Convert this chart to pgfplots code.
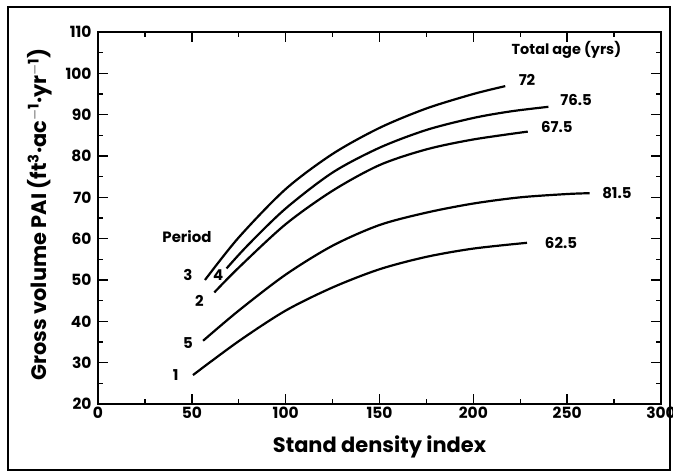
\documentclass[border=0pt]{standalone}
\usepackage{fontspec}
\setmainfont{Poppins}
\usepackage{pgfplots}
\pgfplotsset{compat=1.18}
\begin{document}
\begin{tikzpicture}[x=1bp,y=1bp]
\useasboundingbox (0,0) rectangle (673,473);
\draw[line width=1.2bp] (8,3) rectangle (670,466);
\begin{axis}[at={(98bp,69bp)}, anchor=south west,
  width=563bp, height=372bp, scale only axis,
  xmin=0, xmax=300, ymin=20, ymax=110,
  xtick={0,50,...,300}, ytick={20,30,...,110},
  minor x tick num=1, minor y tick num=1,
  tick align=inside, major tick length=10bp, minor tick length=5bp,
  axis line style={line width=1.6bp},
  every tick/.style={line width=1.4bp, black},
  /pgf/number format/assume math mode=true,
  tick label style={font=\bfseries\fontsize{15.5}{15.5}\selectfont},
  xticklabel style={anchor=center, yshift=-9bp},
  yticklabel style={anchor=east, xshift=-3bp},
  xlabel={Stand density index},
  ylabel={Gross volume PAI (ft\textsuperscript{3}·ac\textsuperscript{$-$1}·yr\textsuperscript{$-$1})},
  label style={font=\bfseries\fontsize{21}{21}\selectfont},
  xlabel style={at={(axis description cs:0.5,0)}, anchor=center, yshift=-43bp},
  ylabel style={at={(axis description cs:-0.104,0.51)}, anchor=center},
  clip=false]
\addplot[smooth, line width=2.2bp] coordinates {(57,50) (75,60.3) (100,72) (125,80.5) (150,86.8) (175,91.5) (200,95) (217,96.9)};
\addplot[smooth, line width=2.2bp] coordinates {(68.5,52.8) (80,58.5) (100,67.3) (125,76) (150,82) (175,86.3) (200,89.2) (220,90.8) (240,91.9)};
\addplot[smooth, line width=2.2bp] coordinates {(62,47) (75,53) (100,63.5) (125,71.6) (150,77.8) (175,81.6) (200,84.0) (229,85.9)};
\addplot[smooth, line width=2.2bp] coordinates {(56,35.3) (75,42.6) (100,51.3) (125,58.3) (150,63.3) (175,66.3) (200,68.5) (225,70.0) (250,70.8) (262,71)};
\addplot[smooth, line width=2.2bp] coordinates {(50.6,27) (75,35.2) (100,42.6) (125,48.2) (150,52.6) (175,55.6) (200,57.6) (228.6,59.0)};
\begin{scope}[every node/.style={font=\bfseries\fontsize{15}{15}\selectfont}]
\node[font=\bfseries\fontsize{14.5}{14.5}\selectfont] at (axis cs:249.6,105.7) {Total age (yrs)};
\node at (axis cs:228.6,98.4) {72};
\node at (axis cs:254.7,93.6) {76.5};
\node at (axis cs:244.5,87.0) {67.5};
\node at (axis cs:276.5,71.05) {81.5};
\node at (axis cs:246.7,59.0) {62.5};
\node at (axis cs:47.4,60.4) {Period};
\node at (axis cs:47.9,51.2) {3};
\node at (axis cs:64,51.2) {4};
\node at (axis cs:54,44.9) {2};
\node at (axis cs:47.9,34.8) {5};
\node at (axis cs:41.4,27.0) {1};
\end{scope}
\end{axis}
\end{tikzpicture}
\end{document}
